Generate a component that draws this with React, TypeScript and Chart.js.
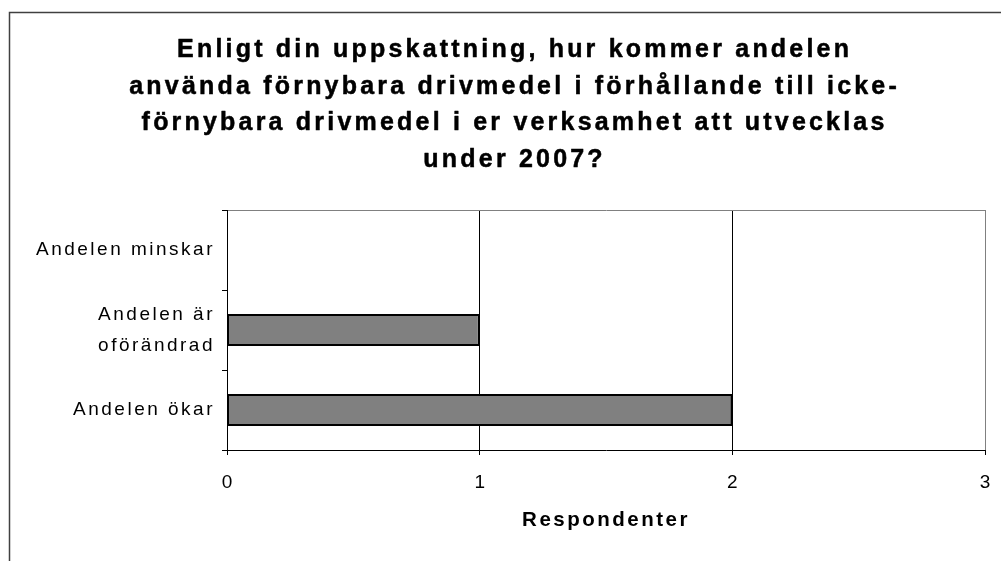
import React, { useEffect, useRef } from 'react';
import { Chart, registerables } from 'chart.js';

Chart.register(...registerables);

const titleLines = [
  'Enligt din uppskattning, hur kommer andelen',
  'använda förnybara drivmedel i förhållande till icke-',
  'förnybara drivmedel i er verksamhet att utvecklas',
  'under 2007?',
];
const categories: (string | string[])[] = ['Andelen minskar', ['Andelen är', 'oförändrad'], 'Andelen ökar'];
const respondents = [0, 1, 2];
const xMin = 0;
const xMax = 3;
const xStep = 1;
const axisTitle = 'Respondenter';

const FONT = "'Liberation Sans', Arial, Helvetica, sans-serif";
const SCALE_SPACING = 2.5;

export default function App() {
  const ref = useRef<HTMLCanvasElement>(null);

  useEffect(() => {
    const canvas = ref.current;
    if (!canvas) return;

    const frameAndTitle = {
      id: 'frameAndTitle',
      beforeDraw(chart: any) {
        const ctx = chart.ctx as any;
        ctx.save();
        ctx.fillStyle = '#ffffff';
        ctx.fillRect(0, 0, chart.width, chart.height);
        ctx.strokeStyle = '#404040';
        ctx.lineWidth = 1.5;
        ctx.beginPath();
        ctx.moveTo(9.5, chart.height);
        ctx.lineTo(9.5, 12.5);
        ctx.lineTo(chart.width, 12.5);
        ctx.stroke();
        ctx.letterSpacing = '3.2px';
        ctx.font = `bold 25px ${FONT}`;
        ctx.fillStyle = '#000000';
        ctx.strokeStyle = '#000000';
        ctx.lineWidth = 0.5;
        ctx.lineJoin = 'round';
        ctx.textAlign = 'center';
        ctx.textBaseline = 'alphabetic';
        titleLines.forEach((line, i) => {
          const x = 513 + 1.6;
          const y = 57 + i * 36.5;
          ctx.fillText(line, x, y);
          ctx.strokeText(line, x, y);
        });
        ctx.restore();
        ctx.letterSpacing = SCALE_SPACING + 'px';
      },
      afterDraw(chart: any) {
        (chart.ctx as any).letterSpacing = '0px';
      },
    };

    const chart = new Chart(canvas, {
      type: 'bar',
      data: {
        labels: categories as any,
        datasets: [
          {
            data: respondents,
            backgroundColor: '#808080',
            borderColor: '#000000',
            borderWidth: 2,
            borderSkipped: false,
            barPercentage: 0.4,
            categoryPercentage: 1,
          },
        ],
      },
      options: {
        indexAxis: 'y',
        responsive: false,
        animation: false,
        devicePixelRatio: 1,
        layout: { padding: { top: 210, right: 16, left: 0, bottom: 0 } },
        plugins: {
          legend: { display: false },
          tooltip: { enabled: false },
          title: { display: false },
        },
        scales: {
          x: {
            type: 'linear',
            min: xMin,
            max: xMax,
            ticks: {
              stepSize: xStep,
              color: '#000000',
              font: { family: FONT, size: 19 },
              padding: 16,
              labelOffset: SCALE_SPACING / 2,
            },
            grid: {
              color: (c: any) => (c.tick && c.tick.value === xMax ? '#808080' : '#000000'),
              tickColor: '#000000',
              tickLength: 5,
              lineWidth: 1,
            },
            border: { display: true, color: '#000000', width: 1 },
            title: {
              display: true,
              text: axisTitle,
              color: '#000000',
              font: { family: FONT, size: 20.5, weight: 'bold' },
              padding: { top: 0, bottom: 28 },
            },
            afterFit: (s: any) => {
              s.height = 111;
              s.paddingLeft = 0;
              s.paddingRight = 0;
            },
          },
          y: {
            type: 'category',
            offset: true,
            ticks: {
              color: '#000000',
              font: { family: FONT, size: 19, lineHeight: 1.62 },
              padding: 7,
            },
            grid: {
              offset: true,
              drawOnChartArea: true,
              color: (c: any) => (c.index === 0 ? '#808080' : 'rgba(0,0,0,0)'),
              tickColor: '#000000',
              tickLength: 5,
              lineWidth: 1,
            },
            border: { display: true, color: '#000000', width: 1 },
            afterFit: (s: any) => {
              s.width = 227;
            },
          },
        },
      },
      plugins: [frameAndTitle],
    } as any);

    return () => chart.destroy();
  }, []);

  return (
    <div style={{ position: 'fixed', left: 0, top: 0, width: 1001, height: 561 }}>
      <canvas ref={ref} width={1001} height={561} style={{ display: 'block' }} />
    </div>
  );
}
